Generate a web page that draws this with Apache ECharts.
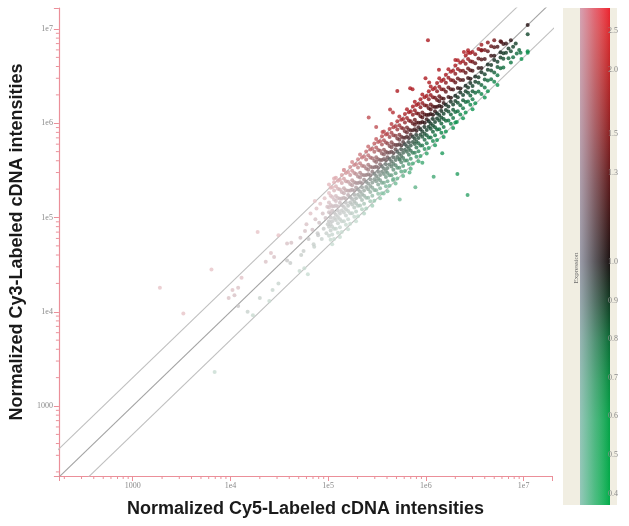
<!DOCTYPE html>
<html><head><meta charset="utf-8">
<script src="https://cdn.jsdelivr.net/npm/echarts@6/dist/echarts.min.js"></script>
<style>html,body{margin:0;padding:0;background:#fff}#c{width:629px;height:526px}</style>
</head><body><div id="c"></div>
<script>
const xTitle = 'Normalized Cy5-Labeled cDNA intensities';
const yTitle = 'Normalized Cy3-Labeled cDNA intensities';
const xRange = [176, 1.95e7];
const yRange = [181, 1.67e7];
const decadeTicks = [1000, 1e4, 1e5, 1e6, 1e7];
const decadeLabels = ['1000', '1e4', '1e5', '1e6', '1e7'];
const foldLines = [0.5, 1, 2];
const ratioTicks = [2.5, 2.0, 1.5, 1.3, 1.0, 0.9, 0.8, 0.7, 0.6, 0.5, 0.4];
const ratioRange = [0.37, 1.66];
const barTitle = 'Expression';

// faint low-intensity spots
const lowSpots = [
 [1.9e4,7.0e4],[3.1e4,6.5e4],[3.8e4,5.3e4],[4.2e4,5.4e4],[7.8e4,6.8e4],[5.3e4,4.0e4],[7.2e4,4.9e4],
 [2.6e4,4.2e4],[2.8e4,3.8e4],[2.3e4,3.4e4],[3.8e4,3.5e4],[4.1e4,3.3e4],[6.2e4,2.5e4],[5.7e4,2.9e4],
 [5.1e4,2.7e4],[6.4e3,2.8e4],[1.9e3,1.8e4],[1.05e4,1.7e4],[1.2e4,1.8e4],[1.1e4,1.5e4],[9.6e3,1.4e4],
 [2.0e4,1.4e4],[2.5e4,1.3e4],[2.7e4,1.7e4],[3.1e4,2.0e4],[1.5e4,1.0e4],[1.2e4,1.15e4],[1.7e4,9.2e3],
 [3.3e3,9.6e3],[6.9e3,2.3e3],[1.3e4,2.3e4]
];

// dense band: each entry is an x value and the y values seen at it
const bandColumns = [
 [5.2e4,[6.1e4]],[5.6e4,[4.4e4]],[5.8e4,[7.2e4]],[6.0e4,[8.5e4]],[6.3e4,[5.9e4]],[6.6e4,[1.1e5]],
 [6.9e4,[7.4e4]],[7.1e4,[5.2e4]],[7.3e4,[1.5e5]],[7.4e4,[9.6e4]],[7.6e4,[1.25e5]],[7.9e4,[6.5e4]],
 [8.1e4,[8.8e4]],[8.3e4,[1.4e5]],[8.6e4,[5.9e4]],[8.8e4,[1.1e5]],[9.0e4,[7.6e4]],[9.2e4,[1.6e5]],
 [9.4e4,[9.9e4]],[9.6e4,[6.8e4]],[9.8e4,[1.3e5]],[9.9e4,[8.5e4]],
 [1.02e5,[1.14e5,9.1e4,1.44e5,8.0e4,1.82e5,6.4e4,2.24e5,1.28e5]],
 [1.06e5,[1.1e5,1.36e5,1.0e5,7.3e4,1.7e5,5.8e4,2.07e5,8.5e4]],
 [1.1e5,[1.32e5,9.1e4,1.65e5,8.0e4,2.09e5,6.6e4,5.2e4,1.19e5]],
 [1.15e5,[1.13e5,1.55e5,9.9e4,1.93e5,7.6e4,2.36e5,5.9e4,1.32e5]],
 [1.2e5,[1.34e5,1.07e5,1.69e5,9.4e4,2.14e5,7.6e4,2.64e5,1.5e5]],
 [1.26e5,[1.31e5,1.61e5,1.18e5,8.7e4,2.02e5,6.9e4,2.46e5,1.01e5]],
 [1.32e5,[1.58e5,1.1e5,1.98e5,9.6e4,2.51e5,7.9e4,6.2e4,1.43e5]],
 [1.38e5,[1.35e5,1.86e5,1.19e5,2.32e5,9.1e4,2.83e5,7.0e4,1.59e5]],
 [1.45e5,[1.62e5,1.29e5,2.04e5,1.13e5,2.58e5,9.1e4,3.19e5,1.81e5]],
 [1.52e5,[1.58e5,1.95e5,1.43e5,1.05e5,2.43e5,8.4e4,2.96e5,1.22e5]],
 [1.6e5,[1.92e5,1.33e5,2.4e5,1.17e5,3.04e5,9.6e4,7.5e4,1.73e5]],
 [1.68e5,[1.65e5,2.27e5,1.44e5,2.82e5,1.11e5,3.44e5,8.6e4,1.93e5]],
 [1.76e5,[1.97e5,1.57e5,2.48e5,1.37e5,3.13e5,1.11e5,3.87e5,2.2e5]],
 [1.85e5,[1.92e5,2.37e5,1.74e5,1.28e5,2.96e5,1.02e5,3.61e5,1.48e5]],
 [1.93e5,[2.32e5,1.6e5,2.9e5,1.41e5,3.67e5,1.16e5,9.1e4,2.08e5]],
 [2.02e5,[1.98e5,2.73e5,1.74e5,3.39e5,1.33e5,4.14e5,1.03e5,2.32e5]],
 [2.12e5,[2.37e5,1.89e5,2.99e5,1.65e5,3.77e5,1.34e5,4.66e5,2.65e5]],
 [2.22e5,[2.31e5,2.84e5,2.09e5,1.53e5,3.55e5,1.22e5,4.33e5,1.78e5]],
 [2.33e5,[2.8e5,1.93e5,3.5e5,1.7e5,4.43e5,1.4e5,1.1e5,2.52e5]],
 [2.45e5,[2.4e5,3.31e5,2.11e5,4.12e5,1.62e5,5.02e5,1.25e5,2.82e5]],
 [2.57e5,[2.88e5,2.29e5,3.62e5,2.0e5,4.57e5,1.62e5,5.65e5,3.21e5]],
 [2.7e5,[2.81e5,3.46e5,2.54e5,1.86e5,4.32e5,1.49e5,5.27e5,2.16e5]],
 [2.83e5,[3.4e5,2.35e5,4.25e5,2.07e5,5.38e5,1.7e5,1.33e5,3.06e5]],
 [2.97e5,[2.91e5,4.01e5,2.55e5,4.99e5,1.96e5,6.09e5,1.51e5,3.42e5]],
 [3.1e5,[3.47e5,2.76e5,4.37e5,2.42e5,5.52e5,1.95e5,6.82e5,3.88e5]],
 [3.25e5,[3.38e5,4.16e5,3.06e5,2.24e5,5.2e5,1.79e5,6.34e5,2.6e5]],
 [3.4e5,[4.08e5,2.82e5,5.1e5,2.48e5,6.46e5,2.04e5,1.6e5,3.67e5]],
 [3.55e5,[3.48e5,4.79e5,3.05e5,5.96e5,2.34e5,7.28e5,1.81e5,4.08e5]],
 [3.72e5,[4.17e5,3.31e5,5.25e5,2.9e5,6.62e5,2.34e5,8.18e5,4.65e5]],
 [3.9e5,[4.06e5,4.99e5,3.67e5,2.69e5,6.24e5,2.15e5,7.61e5,3.12e5]],
 [4.05e5,[4.86e5,3.36e5,6.08e5,2.96e5,7.7e5,2.43e5,1.9e5,4.37e5]],
 [4.25e5,[4.17e5,5.74e5,3.66e5,7.14e5,2.81e5,8.71e5,2.17e5,4.89e5]],
 [4.45e5,[4.98e5,3.96e5,6.27e5,3.47e5,7.92e5,2.8e5,9.79e5,5.56e5]],
 [4.65e5,[4.84e5,5.95e5,4.37e5,3.21e5,7.44e5,2.56e5,9.07e5,3.72e5]],
 [4.9e5,[5.88e5,4.07e5,7.35e5,3.58e5,9.31e5,2.94e5,2.3e5,5.29e5]],
 [5.1e5,[5.0e5,6.89e5,4.39e5,8.57e5,3.37e5,1.05e6,2.6e5,5.87e5]],
 [5.35e5,[5.99e5,4.76e5,7.54e5,4.17e5,9.52e5,3.37e5,1.18e6,6.69e5]],
 [5.6e5,[5.82e5,7.17e5,5.26e5,3.86e5,8.96e5,3.08e5,1.09e6,4.48e5]],
 [5.85e5,[7.02e5,4.86e5,8.78e5,4.27e5,1.11e6,3.51e5,2.75e5,6.32e5]],
 [6.1e5,[5.98e5,8.24e5,5.25e5,1.02e6,4.03e5,1.25e6,3.11e5,7.02e5]],
 [6.4e5,[7.17e5,5.7e5,9.02e5,4.99e5,1.14e6,4.03e5,1.41e6,8.0e5]],
 [6.7e5,[6.97e5,8.58e5,6.3e5,4.62e5,1.07e6,3.69e5,1.31e6,5.36e5]],
 [7.0e5,[8.4e5,5.81e5,1.05e6,5.11e5,1.33e6,4.2e5,3.29e5,7.56e5]],
 [7.35e5,[7.2e5,9.92e5,6.32e5,1.23e6,4.85e5,1.51e6,3.75e5,8.45e5]],
 [7.7e5,[8.62e5,6.85e5,1.09e6,6.01e5,1.37e6,4.85e5,1.69e6,9.63e5]],
 [8.0e5,[8.32e5,1.02e6,7.52e5,5.52e5,1.28e6,4.4e5,1.56e6,6.4e5]],
 [8.4e5,[1.01e6,6.97e5,1.26e6,6.13e5,1.6e6,5.04e5,3.95e5,9.07e5]],
 [8.8e5,[8.62e5,1.19e6,7.57e5,1.48e6,5.81e5,1.8e6,4.49e5,1.01e6]],
 [9.2e5,[1.03e6,8.19e5,1.3e6,7.18e5,1.64e6,5.8e5,2.02e6,1.15e6]],
 [9.7e5,[1.01e6,1.24e6,9.12e5,6.69e5,1.55e6,5.34e5,1.89e6,7.76e5]],
 [1.02e6,[1.22e6,8.47e5,1.53e6,7.45e5,1.94e6,6.12e5,4.79e5,1.1e6]],
 [1.07e6,[1.05e6,1.44e6,9.2e5,1.8e6,7.06e5,2.19e6,5.46e5,1.23e6]],
 [1.12e6,[1.25e6,9.97e5,1.58e6,8.74e5,1.99e6,7.06e5,2.46e6,1.4e6]],
 [1.18e6,[1.23e6,1.51e6,1.11e6,8.14e5,1.89e6,6.49e5,2.3e6,9.44e5]],
 [1.24e6,[1.49e6,1.03e6,1.86e6,9.05e5,2.36e6,7.44e5,5.83e5,1.34e6]],
 [1.3e6,[1.27e6,1.76e6,1.12e6,2.18e6,8.58e5,2.67e6,6.63e5,1.5e6]],
 [1.37e6,[1.53e6,1.22e6,1.93e6,1.07e6,2.44e6,8.63e5,3.01e6,1.71e6]],
 [1.44e6,[1.5e6,1.84e6,1.35e6,9.94e5,2.3e6,7.92e5,2.81e6,1.15e6]],
 [1.52e6,[1.82e6,1.26e6,2.28e6,1.11e6,2.89e6,9.12e5,7.14e5,1.64e6]],
 [1.6e6,[1.57e6,2.16e6,1.38e6,2.69e6,1.06e6,3.28e6,8.16e5]],
 [1.7e6,[1.9e6,1.51e6,2.4e6,1.33e6,3.03e6,1.07e6,3.74e6]],
 [1.8e6,[1.87e6,2.3e6,1.69e6,1.24e6,2.88e6,9.9e5,3.51e6]],
 [1.9e6,[2.28e6,1.58e6,2.85e6,1.39e6,3.61e6,1.14e6,8.93e5]],
 [2.0e6,[1.96e6,2.7e6,1.72e6,3.36e6,1.32e6,4.1e6,1.02e6]],
 [2.12e6,[2.37e6,1.89e6,2.99e6,1.65e6,3.77e6,1.34e6,4.66e6]],
 [2.25e6,[2.34e6,2.88e6,2.12e6,1.55e6,3.6e6,1.24e6,4.39e6]],
 [2.4e6,[2.88e6,1.99e6,3.6e6,1.75e6,4.56e6,1.44e6,1.13e6]],
 [2.55e6,[2.5e6,3.44e6,2.19e6,4.28e6,1.68e6,5.23e6,1.3e6]],
 [2.7e6,[3.02e6,2.4e6,3.81e6,2.11e6,4.81e6,1.7e6,5.94e6]],
 [2.85e6,[2.96e6,3.65e6,2.68e6,1.97e6,4.56e6,1.57e6,5.56e6]],
 [3.0e6,[3.6e6,2.49e6,4.5e6,2.19e6,5.7e6,1.8e6,1.41e6]],
 [3.2e6,[3.14e6,4.32e6,2.75e6,5.38e6,2.11e6,1.63e6]],
 [3.45e6,[3.86e6,3.07e6,4.86e6,2.69e6,6.14e6,2.17e6]],
 [3.7e6,[3.85e6,4.74e6,3.48e6,2.55e6,5.92e6,2.04e6]],
 [4.0e6,[4.8e6,3.32e6,6.0e6,2.92e6,2.4e6,1.88e6]],
 [4.3e6,[4.21e6,5.8e6,3.7e6,7.2e6,2.84e6,2.19e6]],
 [4.65e6,[5.21e6,4.14e6,6.56e6,3.63e6,2.93e6]],
 [5.0e6,[5.2e6,6.4e6,4.7e6,3.45e6,2.75e6]],
 [5.4e6,[6.48e6,4.48e6,3.94e6,3.24e6,2.54e6]],
 [5.8e6,[5.68e6,7.4e6,4.99e6,3.83e6]],
 [6.2e6,[6.94e6,5.52e6,4.84e6,3.9e6]],
 [6.6e6,[7.0e6,5.6e6]],[7.0e6,[6.2e6,4.9e6]],[7.4e6,[7.6e6,5.8e6]],[7.8e6,[6.5e6,5.0e6]],
 [8.3e6,[7.0e6]],[8.5e6,[5.5e6]],[9.0e6,[6.0e6]],[9.5e6,[4.8e6]],[1.1e7,[1.1e7,8.8e6,5.8e6]]
];

// scattered spots away from the band
const upSpots = [
 [1.45e5,3.2e5],[1.15e5,2.6e5],[2.6e5,1.15e6],[3.1e5,9.1e5],[3.6e5,8.1e5],[4.6e5,1.3e6],[5.1e5,2.2e6],
 [6.9e5,2.35e6],[1.05e6,7.6e6],[9.9e5,3.0e6],[2.45e6,5.7e6],[3.7e6,6.8e6],[5.0e6,7.6e6],[5.9e6,7.3e6],
 [1.08e6,2.7e6],[7.3e5,2.3e6],[4.3e5,1.4e6],[1.36e6,3.7e6],[2.7e6,5.6e6],[3.7e6,6.0e6],[2.0e6,4.7e6]
];
const downSpots = [
 [1.47e6,4.8e5],[9.2e5,3.8e5],[1.2e6,2.7e5],[2.67e6,1.73e5],[2.1e6,2.9e5],[5.4e5,4.1e5],[6.8e5,3.0e5],
 [7.8e5,2.1e5],[4.6e5,2.5e5],[3.7e5,1.8e5],[5.4e5,1.55e5],[2.07e6,1.03e6],[7.4e6,4.4e6],[9.3e6,5.6e6],[1.1e7,5.6e6]
];

function mix(a, b, s) { return [0,1,2].map(i => Math.round(a[i] + (b[i] - a[i]) * s)); }
function spotColor(x, y) {
  const lr = Math.log10(y / x);
  const li = Math.log10(Math.sqrt(x * y));
  let base;
  if (lr >= 0) base = mix([36, 16, 18], [172, 26, 32], Math.min(lr / 0.3, 1));
  else base = mix([18, 32, 26], [14, 148, 80], Math.min(-lr / 0.3, 1));
  const w = Math.max(0, Math.min(0.8, (6.0 - li) / 1.1));
  const c = mix(base, [246, 238, 242], w);
  return 'rgb(' + c.join(',') + ')';
}
const spots = [];
bandColumns.forEach(([x, ys]) => ys.forEach(y => spots.push([x, y])));
lowSpots.concat(upSpots, downSpots).forEach(p => spots.push(p));

const minorX = [], minorY = [];
for (let e = 2; e <= 7; e++) for (let m = 2; m <= 9; m++) {
  const v = m * Math.pow(10, e);
  if (v > xRange[0] && v < xRange[1]) minorX.push([v, yRange[0]]);
  if (v > yRange[0] && v < yRange[1]) minorY.push([xRange[0], v]);
}
const pinkAxis = '#eb8f99';
function decadeLabel(v) {
  for (let i = 0; i < decadeTicks.length; i++)
    if (Math.abs(Math.log10(v) - Math.log10(decadeTicks[i])) < 1e-6) return decadeLabels[i];
  return '';
}
const toBar = r => r > 1 ? 2 - 1 / r : r;
const fromBar = t => t > 1 ? 1 / (2 - t) : t;
const labelFont = { color: '#8a8a8a', fontFamily: 'Liberation Serif', fontSize: 8 };
const titleFont = { color: '#1a1a1a', fontFamily: 'Liberation Sans', fontWeight: 'bold', fontSize: 18 };

const chart = echarts.init(document.getElementById('c'));
chart.setOption({
  animation: false,
  grid: [
    { left: 50, top: 8, width: 502, height: 468 },
    { left: 580, top: 8, width: 30, height: 497, show: true, borderWidth: 0,
      backgroundColor: new echarts.graphic.LinearGradient(0, 0, 0, 1, [
        { offset: 0, color: '#ec2430' }, { offset: 0.05, color: '#d82a2e' },
        { offset: 0.13, color: '#bc2628' }, { offset: 0.245, color: '#8e2022' },
        { offset: 0.34, color: '#601a1c' }, { offset: 0.51, color: '#1a1212' },
        { offset: 0.59, color: '#103a22' }, { offset: 0.67, color: '#0a6c36' },
        { offset: 0.75, color: '#078c40' }, { offset: 0.83, color: '#05a248' },
        { offset: 1, color: '#02ac4a' }]) }
  ],
  xAxis: [
    { type: 'log', logBase: 10, gridIndex: 0, min: xRange[0], max: xRange[1],
      axisLine: { lineStyle: { color: pinkAxis, width: 1.2 } },
      axisTick: { length: 5, lineStyle: { color: pinkAxis } },
      axisLabel: Object.assign({ margin: 6, formatter: decadeLabel }, labelFont),
      splitLine: { show: false }, minorTick: { show: false },
      name: xTitle, nameLocation: 'middle', nameGap: 24, nameTextStyle: titleFont },
    { type: 'value', gridIndex: 1, show: false, min: 0, max: 1 }
  ],
  yAxis: [
    { type: 'log', logBase: 10, gridIndex: 0, min: yRange[0], max: yRange[1],
      axisLine: { lineStyle: { color: pinkAxis, width: 1.2 } },
      axisTick: { length: 5, lineStyle: { color: pinkAxis } },
      axisLabel: Object.assign({ margin: 6, formatter: decadeLabel }, labelFont),
      splitLine: { show: false },
      name: yTitle, nameLocation: 'middle', nameGap: 23, nameTextStyle: titleFont },
    { type: 'value', gridIndex: 1, position: 'right', min: ratioRange[0], max: ratioRange[1],
      axisLine: { show: false }, axisTick: { show: false }, splitLine: { show: false },
      axisLabel: Object.assign({ margin: -2, customValues: ratioTicks.map(toBar),
        formatter: v => fromBar(v).toFixed(1) }, labelFont) }
  ],
  graphic: { elements: [
    { type: 'rect', z: -20, shape: { x: 563, y: 8, width: 54, height: 497 }, style: { fill: '#f1eee2' } },
    { type: 'rect', z: 100, shape: { x: 580, y: 8, width: 30, height: 497 },
      style: { fill: new echarts.graphic.LinearGradient(0, 0, 1, 0, [
        { offset: 0, color: 'rgba(205,210,228,0.72)' }, { offset: 0.5, color: 'rgba(215,220,235,0.35)' },
        { offset: 1, color: 'rgba(255,255,255,0)' }]) } },
    { type: 'text', z: 101, x: 576, y: 268, rotation: Math.PI / 2,
      style: { text: barTitle, fill: '#6a6a6a', font: '7px "Liberation Serif"', align: 'center', verticalAlign: 'middle' } }
  ] },
  series: [
    ...foldLines.map(k => ({
      type: 'line', xAxisIndex: 0, yAxisIndex: 0, symbol: 'none', silent: true, clip: true, z: 1,
      data: [[xRange[0] / 4, xRange[0] / 4 * k], [xRange[1] * 4, xRange[1] * 4 * k]],
      lineStyle: { color: k === 1 ? '#a4a4a4' : '#c0c0c0', width: 1.1 }
    })),
    { type: 'scatter', xAxisIndex: 0, yAxisIndex: 0, data: spots, symbolSize: 4, z: 3,
      itemStyle: { color: p => spotColor(p.value[0], p.value[1]) } },
    { type: 'custom', xAxisIndex: 0, yAxisIndex: 0, clip: false, silent: true, data: minorX, z: 5,
      renderItem: (params, api) => { const p = api.coord([api.value(0), api.value(1)]);
        return { type: 'line', shape: { x1: p[0], y1: p[1], x2: p[0], y2: p[1] + 3 }, style: { stroke: pinkAxis, lineWidth: 1 } }; } },
    { type: 'custom', xAxisIndex: 0, yAxisIndex: 0, clip: false, silent: true, data: minorY, z: 5,
      renderItem: (params, api) => { const p = api.coord([api.value(0), api.value(1)]);
        return { type: 'line', shape: { x1: p[0], y1: p[1], x2: p[0] - 3, y2: p[1] }, style: { stroke: pinkAxis, lineWidth: 1 } }; } }
  ]
});
</script></body></html>
